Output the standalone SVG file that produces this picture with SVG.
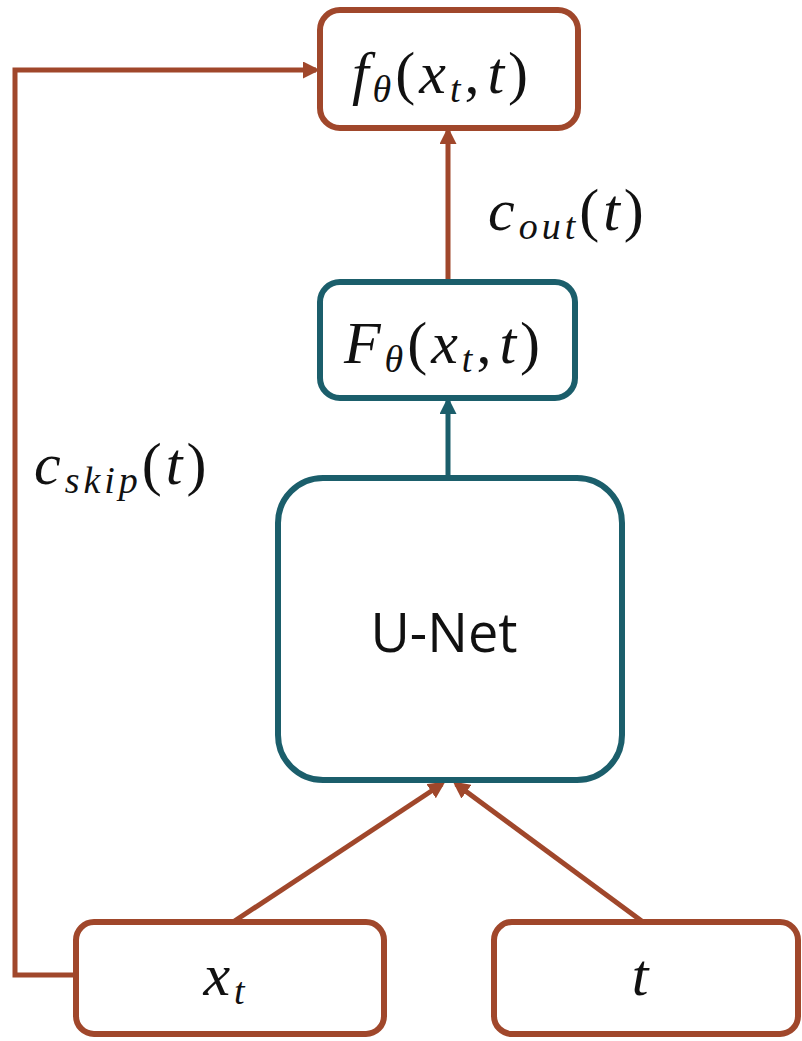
<svg xmlns="http://www.w3.org/2000/svg" width="802" height="1041" viewBox="0 0 802 1041">
<style>
.b{fill:#fff;stroke:#A0472B;stroke-width:6}
.g{fill:#fff;stroke:#1B5E6B;stroke-width:6}
.m{font-family:"Liberation Serif","DejaVu Serif",serif;font-size:60px;fill:#111;letter-spacing:4px}
.i{font-style:italic}
.s{font-size:38px;font-style:italic}
.lb{fill:none;stroke:#A0472B;stroke-width:5}
.lg{fill:none;stroke:#1B5E6B;stroke-width:5}
.u{font-family:"Open Sans","Noto Sans",sans-serif;font-size:54px;fill:#111}
</style>
<defs>
<marker id="ab" markerWidth="3.4" markerHeight="3.4" refX="2.6" refY="1.7" orient="auto" markerUnits="strokeWidth"><path d="M0,0 L3.4,1.7 L0,3.4 Z" fill="#A0472B"/></marker>
<marker id="ag" markerWidth="3.4" markerHeight="3.4" refX="2.6" refY="1.7" orient="auto" markerUnits="strokeWidth"><path d="M0,0 L3.4,1.7 L0,3.4 Z" fill="#1B5E6B"/></marker>
</defs>
<g id="connectors">
<path class="lb" d="M75,975 H15 V70 H316" marker-end="url(#ab)"/>
<path class="lb" d="M448,282 V131" marker-end="url(#ab)"/>
<path class="lg" d="M448,478 V401" marker-end="url(#ag)"/>
<path class="lb" d="M233,922 L442,784" marker-end="url(#ab)"/>
<path class="lb" d="M643,922 L456,784" marker-end="url(#ab)"/>
</g>
<g id="label-cout"><text class="m" x="488" y="230"><tspan class="i">c</tspan><tspan class="s" dy="9">out</tspan><tspan dy="-9">(</tspan><tspan class="i">t</tspan>)</text></g>
<g id="label-cskip"><text class="m" x="34" y="484"><tspan class="i">c</tspan><tspan class="s" dy="9">skip</tspan><tspan dy="-9">(</tspan><tspan class="i">t</tspan>)</text></g>
<g id="node-f">
<rect class="b" x="320" y="10" width="258" height="118" rx="20"/>
<text class="m" x="442" y="93" text-anchor="middle"><tspan class="i">f</tspan><tspan class="s" dy="9">θ</tspan><tspan dy="-9">(</tspan><tspan class="i">x</tspan><tspan class="s" dy="9">t</tspan><tspan dy="-9">,</tspan><tspan class="i" dx="4">t</tspan>)</text>
</g>
<g id="node-F">
<rect class="g" x="320" y="282" width="255" height="116" rx="20"/>
<text class="m" x="444" y="363" text-anchor="middle"><tspan class="i">F</tspan><tspan class="s" dy="9">θ</tspan><tspan dy="-9">(</tspan><tspan class="i">x</tspan><tspan class="s" dy="9">t</tspan><tspan dy="-9">,</tspan><tspan class="i" dx="4">t</tspan>)</text>
</g>
<g id="node-unet">
<rect class="g" x="278" y="478" width="344" height="302" rx="45"/>
<text class="u" x="444" y="652" text-anchor="middle">U-Net</text>
</g>
<g id="node-xt">
<rect class="b" x="76" y="922" width="308" height="112" rx="18"/>
<text class="m" x="226" y="995" text-anchor="middle"><tspan class="i">x</tspan><tspan class="s" dy="9">t</tspan></text>
</g>
<g id="node-t">
<rect class="b" x="494" y="922" width="304" height="112" rx="18"/>
<text class="m i" x="642" y="995" text-anchor="middle">t</text>
</g>
</svg>
